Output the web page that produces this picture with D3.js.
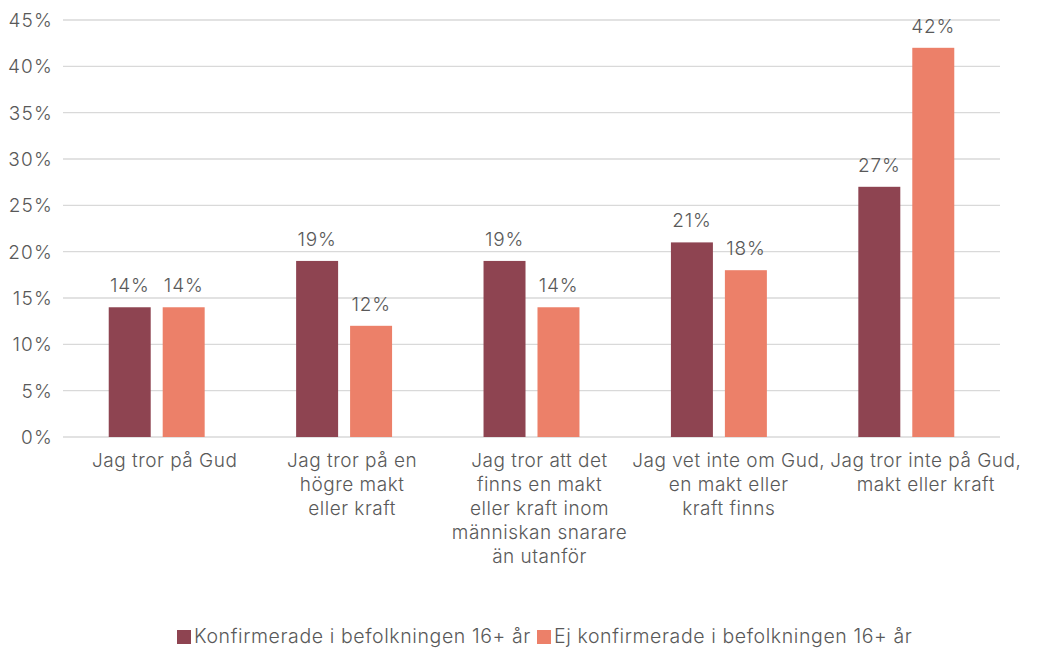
<!DOCTYPE html>
<html>
<head>
<meta charset="utf-8">
<script src="https://cdn.jsdelivr.net/npm/d3@7"></script>
<style>
  body { margin: 0; background: #fff; }
  svg text { font-family: Inter, "Noto Sans", sans-serif; fill: #595959; font-weight: 300; }
</style>
</head>
<body>
<div id="chart"></div>
<script>
// chart data
var categories = [
  ["Jag tror på Gud"],
  ["Jag tror på en", "högre makt", "eller kraft"],
  ["Jag tror att det", "finns en makt", "eller kraft inom", "människan snarare", "än utanför"],
  ["Jag vet inte om Gud,", "en makt eller", "kraft finns"],
  ["Jag tror inte på Gud,", "makt eller kraft"]
];
var seriesNames = ["Konfirmerade i befolkningen 16+ år", "Ej konfirmerade i befolkningen 16+ år"];
var confirmed = [14, 19, 19, 21, 27];
var notConfirmed = [14, 12, 14, 18, 42];
var yTicks = [0, 5, 10, 15, 20, 25, 30, 35, 40, 45];
var colors = ["#8E4451", "#EC8069"];

var width = 1039, height = 648;
var margin = { top: 20, right: 39, bottom: 211, left: 63 };

var svg = d3.select('#chart').append('svg')
    .attr('width', width)
    .attr('height', height);

var x0 = d3.scaleBand()
    .domain(d3.range(categories.length))
    .range([margin.left, width - margin.right])
    .paddingInner(0.488)
    .paddingOuter(0.244);

var x1 = d3.scaleBand()
    .domain([0, 1])
    .range([0, x0.bandwidth()])
    .paddingInner(0.222);

var y = d3.scaleLinear()
    .domain([0, 45])
    .range([height - margin.bottom, margin.top]);

// gridlines
svg.append('g').selectAll('line')
    .data(yTicks)
    .enter().append('line')
    .attr('x1', margin.left)
    .attr('x2', width - margin.right)
    .attr('y1', function(d){ return y(d); })
    .attr('y2', function(d){ return y(d); })
    .attr('stroke', '#d9d9d9')
    .attr('stroke-width', 1.3);

// y axis labels
svg.append('g').selectAll('text')
    .data(yTicks)
    .enter().append('text')
    .attr('x', 53)
    .attr('y', function(d){ return y(d); })
    .attr('dy', '0.36em')
    .attr('text-anchor', 'end')
    .attr('font-size', 19)
    .attr('letter-spacing', 1.2)
    .text(function(d){ return d + '%'; });

var series = [confirmed, notConfirmed];

series.forEach(function(vals, s) {
  var g = svg.append('g');
  g.selectAll('rect')
    .data(vals)
    .enter().append('rect')
    .attr('x', function(d, i){ return x0(i) + x1(s); })
    .attr('width', x1.bandwidth())
    .attr('y', function(d){ return y(d); })
    .attr('height', function(d){ return y(0) - y(d); })
    .attr('fill', colors[s]);

  g.selectAll('text')
    .data(vals)
    .enter().append('text')
    .attr('x', function(d, i){ return x0(i) + x1(s) + x1.bandwidth() / 2; })
    .attr('y', function(d){ return y(d) - 15; })
    .attr('text-anchor', 'middle')
    .attr('font-size', 19)
    .attr('letter-spacing', 0.8)
    .text(function(d){ return d + '%'; });
});

// category labels (sit a little right of the bar pair, as in the original)
var labelShift = 8;
var cat = svg.append('g').selectAll('text')
    .data(categories)
    .enter().append('text')
    .attr('text-anchor', 'middle')
    .attr('font-size', 19)
    .attr('letter-spacing', 0.5);
cat.selectAll('tspan')
    .data(function(d){ return d; })
    .enter().append('tspan')
    .attr('x', 0)
    .attr('y', function(d, i){ return i * 24; })
    .text(function(d){ return d; });

// push labels right when they would run into the previous one
var prevRight = -Infinity;
cat.each(function(d, i){
  var w = this.getBBox().width;
  var cx = x0(i) + x0.bandwidth() / 2 + labelShift;
  if (cx - w / 2 < prevRight + 5) cx = prevRight + 5 + w / 2;
  cx = Math.min(cx, width - 6 - w / 2);
  prevRight = cx + w / 2;
  d3.select(this).attr('transform', 'translate(' + cx + ',467)');
});

// legend
var legendX = [177, 537];
var legend = svg.append('g').selectAll('g')
    .data(seriesNames)
    .enter().append('g')
    .attr('transform', function(d, i){ return 'translate(' + legendX[i] + ',630)'; });
legend.append('rect')
    .attr('width', 14)
    .attr('height', 14)
    .attr('fill', function(d, i){ return colors[i]; });
legend.append('text')
    .attr('x', 17)
    .attr('y', 13)
    .attr('font-size', 19.5)
    .attr('letter-spacing', 0.6)
    .text(function(d){ return d; });
</script>
</body>
</html>
